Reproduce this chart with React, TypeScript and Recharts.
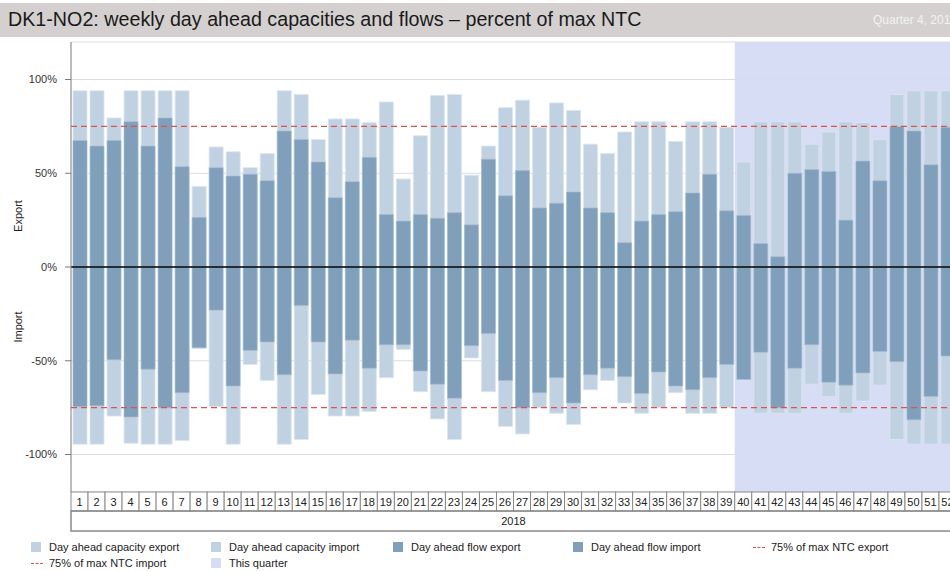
import { BarChart, Bar, XAxis, YAxis, CartesianGrid, ReferenceLine, ReferenceArea } from 'recharts';

const weeks = ['1', '2', '3', '4', '5', '6', '7', '8', '9', '10', '11', '12', '13', '14', '15', '16', '17', '18', '19', '20', '21', '22', '23', '24', '25', '26',
  '27', '28', '29', '30', '31', '32', '33', '34', '35', '36', '37', '38', '39', '40', '41', '42', '43', '44', '45', '46', '47', '48', '49', '50', '51', '52'];
const yearLabel = '2018';

const capExport = [94, 94, 79.5, 94, 94, 94, 94, 43, 64, 61.5, 53, 60.5, 94, 92, 68, 79, 79, 77, 88, 47, 70, 91.5, 92, 49, 64.5, 85,
  89, 74.5, 87.5, 83.5, 65.5, 60.5, 72, 77.5, 77.5, 67, 77.5, 77.5, 74.5, 56, 77.5, 77.5, 77.5, 65.5, 72, 77.5, 77, 68, 92, 94, 94, 94];
const capImport = [-94.5, -94.5, -79.5, -94, -94.5, -94.5, -92.5, -43.5, -74.5, -94.5, -52, -60.5, -94.5, -92, -68, -79.5, -79.5, -77, -59, -44, -66.5, -81, -92, -48.5, -66.5, -85,
  -89, -75, -78, -84, -65.5, -60.5, -72.5, -78, -75, -67, -78, -78, -75, -60, -78, -78, -78, -62.5, -69, -78, -71.5, -63, -92, -94.5, -94.5, -94.5];
const flowExport = [67.5, 64.5, 67.5, 77.5, 64.5, 79.5, 53.5, 26.5, 53, 48.5, 49.5, 46, 72.5, 68, 56, 37, 45.5, 58.5, 28, 24.5, 28, 26, 29, 22.5, 57.5, 38,
  51.5, 31.5, 34, 40, 31.5, 29, 13, 24.5, 28, 29.5, 39.5, 49.5, 30, 27.5, 12.5, 5.5, 50, 52, 51, 25, 56.5, 46, 75, 72.5, 54.5, 74.5];
const flowImport = [-74.5, -74, -49.5, -80, -54.5, -75, -67, -43, -23, -63.5, -44.5, -40, -57.5, -20.5, -40, -57, -39, -54, -41.5, -41.5, -55.5, -62.5, -70, -42, -35.5, -60.5,
  -75, -67, -59, -72.5, -57.5, -54, -58.5, -67.5, -56, -63.5, -65.5, -59, -52, -60, -45.5, -75, -54, -41.5, -61.5, -63, -56.5, -45, -50.5, -81.5, -69, -47.5];

const ntcLimit = 75;
const quarterStart = '40';
const quarterEnd = '52';
const yTicks = [-100, -50, 0, 50, 100];

const data = weeks.map((week, i) => ({
  week,
  year: yearLabel,
  capExport: capExport[i],
  capImport: capImport[i],
  flowExport: flowExport[i],
  flowImport: flowImport[i],
}));

const LIGHT = '#c0d1e2';
const DARK = '#7f9fba';
const QUARTER = '#d6dcf5';
const RED = '#d9534f';
const FONT = "'Liberation Sans', Arial, sans-serif";

const CHART_W = 970;
const CHART_H = 571;
const Y_W = 71;
const M_RIGHT = 14;
const PLOT_W = CHART_W - Y_W - M_RIGHT;
const BAND = PLOT_W / weeks.length;

const WeekTick = ({ x, y, payload }: any) => (
  <g>
    <rect x={x - BAND / 2} y={y} width={BAND} height={19} fill="#fff" stroke="#8a8a8a" strokeWidth={1} />
    <text x={x} y={y + 14} textAnchor="middle" fontSize={11} fill="#222" fontFamily={FONT}>{payload.value}</text>
  </g>
);

const YearTick = ({ x, y, payload }: any) => (
  <g>
    <rect x={Y_W} y={y} width={PLOT_W} height={20} fill="none" stroke="#8a8a8a" strokeWidth={1.5} />
    <text x={x} y={y + 14} textAnchor="middle" fontSize={11} fill="#222" fontFamily={FONT}>{payload.value}</text>
  </g>
);

const legendItems = [
  { label: 'Day ahead capacity export', kind: 'box', color: LIGHT, x: 31, y: 540 },
  { label: 'Day ahead capacity import', kind: 'box', color: LIGHT, x: 211, y: 540 },
  { label: 'Day ahead flow export', kind: 'box', color: DARK, x: 393, y: 540 },
  { label: 'Day ahead flow import', kind: 'box', color: DARK, x: 573, y: 540 },
  { label: '75% of max NTC export', kind: 'dash', color: RED, x: 753, y: 540 },
  { label: '75% of max NTC import', kind: 'dash', color: RED, x: 31, y: 556 },
  { label: 'This quarter', kind: 'box', color: QUARTER, x: 211, y: 556 },
];

export default function App() {
  return (
    <div style={{ position: 'absolute', left: 0, top: 0, width: 950, height: 571, overflow: 'hidden', background: '#fff', fontFamily: FONT }}>
      <div style={{ position: 'absolute', left: 0, top: 3, width: 950, height: 34, background: '#d4d0d0' }}>
        <div style={{ position: 'absolute', left: 8, top: 5, fontSize: 19.7, color: '#1a1a1a', whiteSpace: 'nowrap' }}>
          DK1-NO2: weekly day ahead capacities and flows – percent of max NTC
        </div>
        <div style={{ position: 'absolute', left: 873, top: 10, fontSize: 12, color: '#f2f2f2', whiteSpace: 'nowrap' }}>
          Quarter 4, 2018
        </div>
      </div>

      <div style={{ position: 'absolute', left: 0, top: 0 }}>
        <BarChart width={CHART_W} height={CHART_H} data={data} stackOffset="sign"
          margin={{ top: 42, right: M_RIGHT, bottom: 40, left: 0 }} barSize={14}>
          <CartesianGrid xAxisId="flow" vertical={false} stroke="#dcdcdc" />
          <ReferenceArea xAxisId="flow" x1={quarterStart} x2={quarterEnd} fill="#d3daf4" fillOpacity={0.93} stroke="none" />
          <XAxis xAxisId="cap" dataKey="week" hide height={0} />
          <XAxis xAxisId="flow" dataKey="week" interval={0} height={19} tickLine={false} axisLine={false}
            tickSize={0} tickMargin={0} tick={<WeekTick />} />
          <XAxis xAxisId="year" dataKey="year" allowDuplicatedCategory={false} height={20} tickLine={false}
            axisLine={false} tickSize={0} tickMargin={0} tick={<YearTick />} />
          <YAxis width={Y_W} domain={[-120, 120]} ticks={yTicks} tickFormatter={(v: number) => `${v}%`}
            tick={{ fontSize: 11, fill: '#333', fontFamily: FONT }} tickSize={6} tickMargin={8}
            axisLine={{ stroke: '#7a7a7a' }} tickLine={{ stroke: '#7a7a7a' }} />
          <Bar xAxisId="cap" dataKey="capExport" stackId="cap" fill={LIGHT} stroke="#dce6f0" strokeWidth={0.8} isAnimationActive={false} />
          <Bar xAxisId="cap" dataKey="capImport" stackId="cap" fill={LIGHT} stroke="#dce6f0" strokeWidth={0.8} isAnimationActive={false} />
          <Bar xAxisId="flow" dataKey="flowExport" stackId="flow" fill={DARK} stroke="#a9bfd1" strokeWidth={0.6} isAnimationActive={false} />
          <Bar xAxisId="flow" dataKey="flowImport" stackId="flow" fill={DARK} stroke="#a9bfd1" strokeWidth={0.6} isAnimationActive={false} />
          <ReferenceLine xAxisId="flow" y={0} stroke="#000" strokeWidth={1.5} />
          <ReferenceLine xAxisId="flow" y={ntcLimit} stroke={RED} strokeDasharray="6 4" strokeWidth={1.3} />
          <ReferenceLine xAxisId="flow" y={-ntcLimit} stroke={RED} strokeDasharray="6 4" strokeWidth={1.3} />
        </BarChart>
      </div>

      <div style={{ position: 'absolute', left: 18, top: 216, transform: 'translate(-50%, -50%) rotate(-90deg)', fontSize: 11, color: '#222' }}>Export</div>
      <div style={{ position: 'absolute', left: 18, top: 327, transform: 'translate(-50%, -50%) rotate(-90deg)', fontSize: 11, color: '#222' }}>Import</div>

      {legendItems.map((it) => (
        <div key={it.label} style={{ position: 'absolute', left: it.x, top: it.y, height: 14, display: 'flex', alignItems: 'center', fontSize: 11, color: '#222', whiteSpace: 'nowrap' }}>
          {it.kind === 'box' ? (
            <span style={{ display: 'inline-block', width: 10, height: 10, background: it.color, marginRight: 8 }} />
          ) : (
            <span style={{ display: 'inline-block', width: 12, height: 0, borderTop: `1px dashed ${it.color}`, marginRight: 6 }} />
          )}
          {it.label}
        </div>
      ))}
    </div>
  );
}
